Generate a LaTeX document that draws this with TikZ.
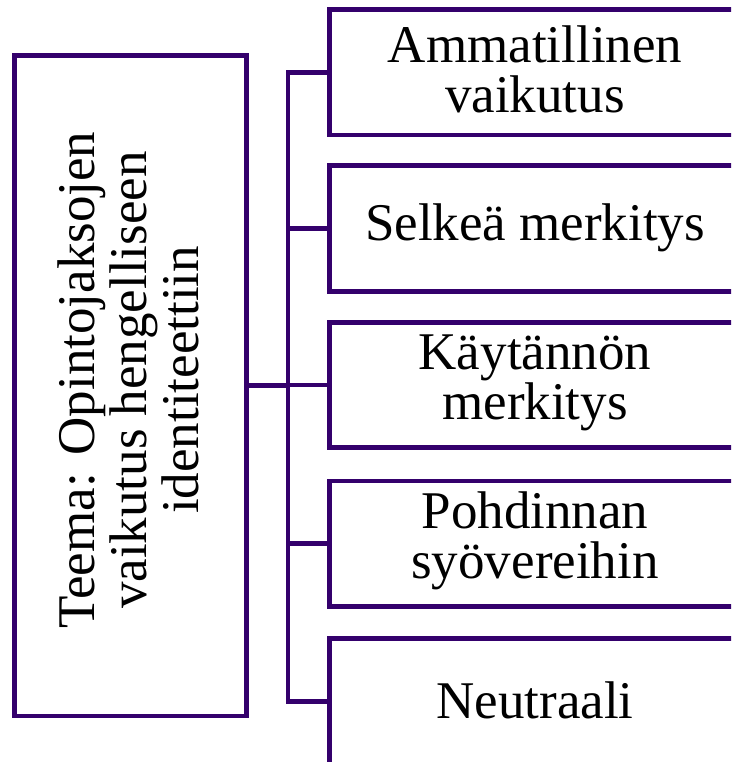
\documentclass[tikz,border=0pt]{standalone}
\usepackage{fontspec}
\setmainfont{Liberation Serif}
\definecolor{lineviolet}{HTML}{34006C}
\tikzset{
  frame/.style={draw=lineviolet, line width=4.6pt, fill=white, inner sep=0pt},
  rbox/.style={frame, minimum width=411.5pt, minimum height=125.5pt},
  conn/.style={draw=lineviolet, line width=4.6pt},
  lbl/.style={font=\fontsize{53}{50}\selectfont, align=center, text=black, inner sep=0pt}
}
\begin{document}
\begin{tikzpicture}[x=1pt,y=-1pt]
\useasboundingbox (0,0) rectangle (731,762);
\clip (0,0) rectangle (731,762);
\fill[white] (0,0) rectangle (731,762);
\coordinate (tr) at (288,0);
\node[frame, minimum width=232pt, minimum height=660.5pt] (left) at (130.5,385.75) {};
\node[lbl, font=\fontsize{53}{52}\selectfont, rotate=90] (lefttext) at (128,380) {Teema: Opintojaksojen\\vaikutus hengelliseen\\identiteettiin};
\node[rbox] (b1) at (535.25,72.25) {};
\node[rbox] (b2) at (535.25,228.5) {};
\node[rbox] (b3) at (535.25,385) {};
\node[rbox] (b4) at (535.25,543.75) {};
\node[rbox] (b5) at (535.25,701.25) {};
\node[lbl] (t1) at (535,69) {Ammatillinen\\vaikutus};
\node[lbl] (t2) at (535,228) {Selke\"a merkitys};
\node[lbl] (t3) at (535,383) {K\"ayt\"ann\"on\\merkitys};
\node[lbl] (t4) at (535,541) {Pohdinnan\\sy\"overeihin};
\node[lbl] (t5) at (535,700) {Neutraali};
\draw[conn, line cap=rect] (b1.west -| tr) -- (b5.west -| tr);
\foreach \i in {1,...,5} { \draw[conn] (b\i.west) -- (b\i.west -| tr); }
\draw[conn] (left.east) -- (left.east -| tr);
\end{tikzpicture}
\end{document}
